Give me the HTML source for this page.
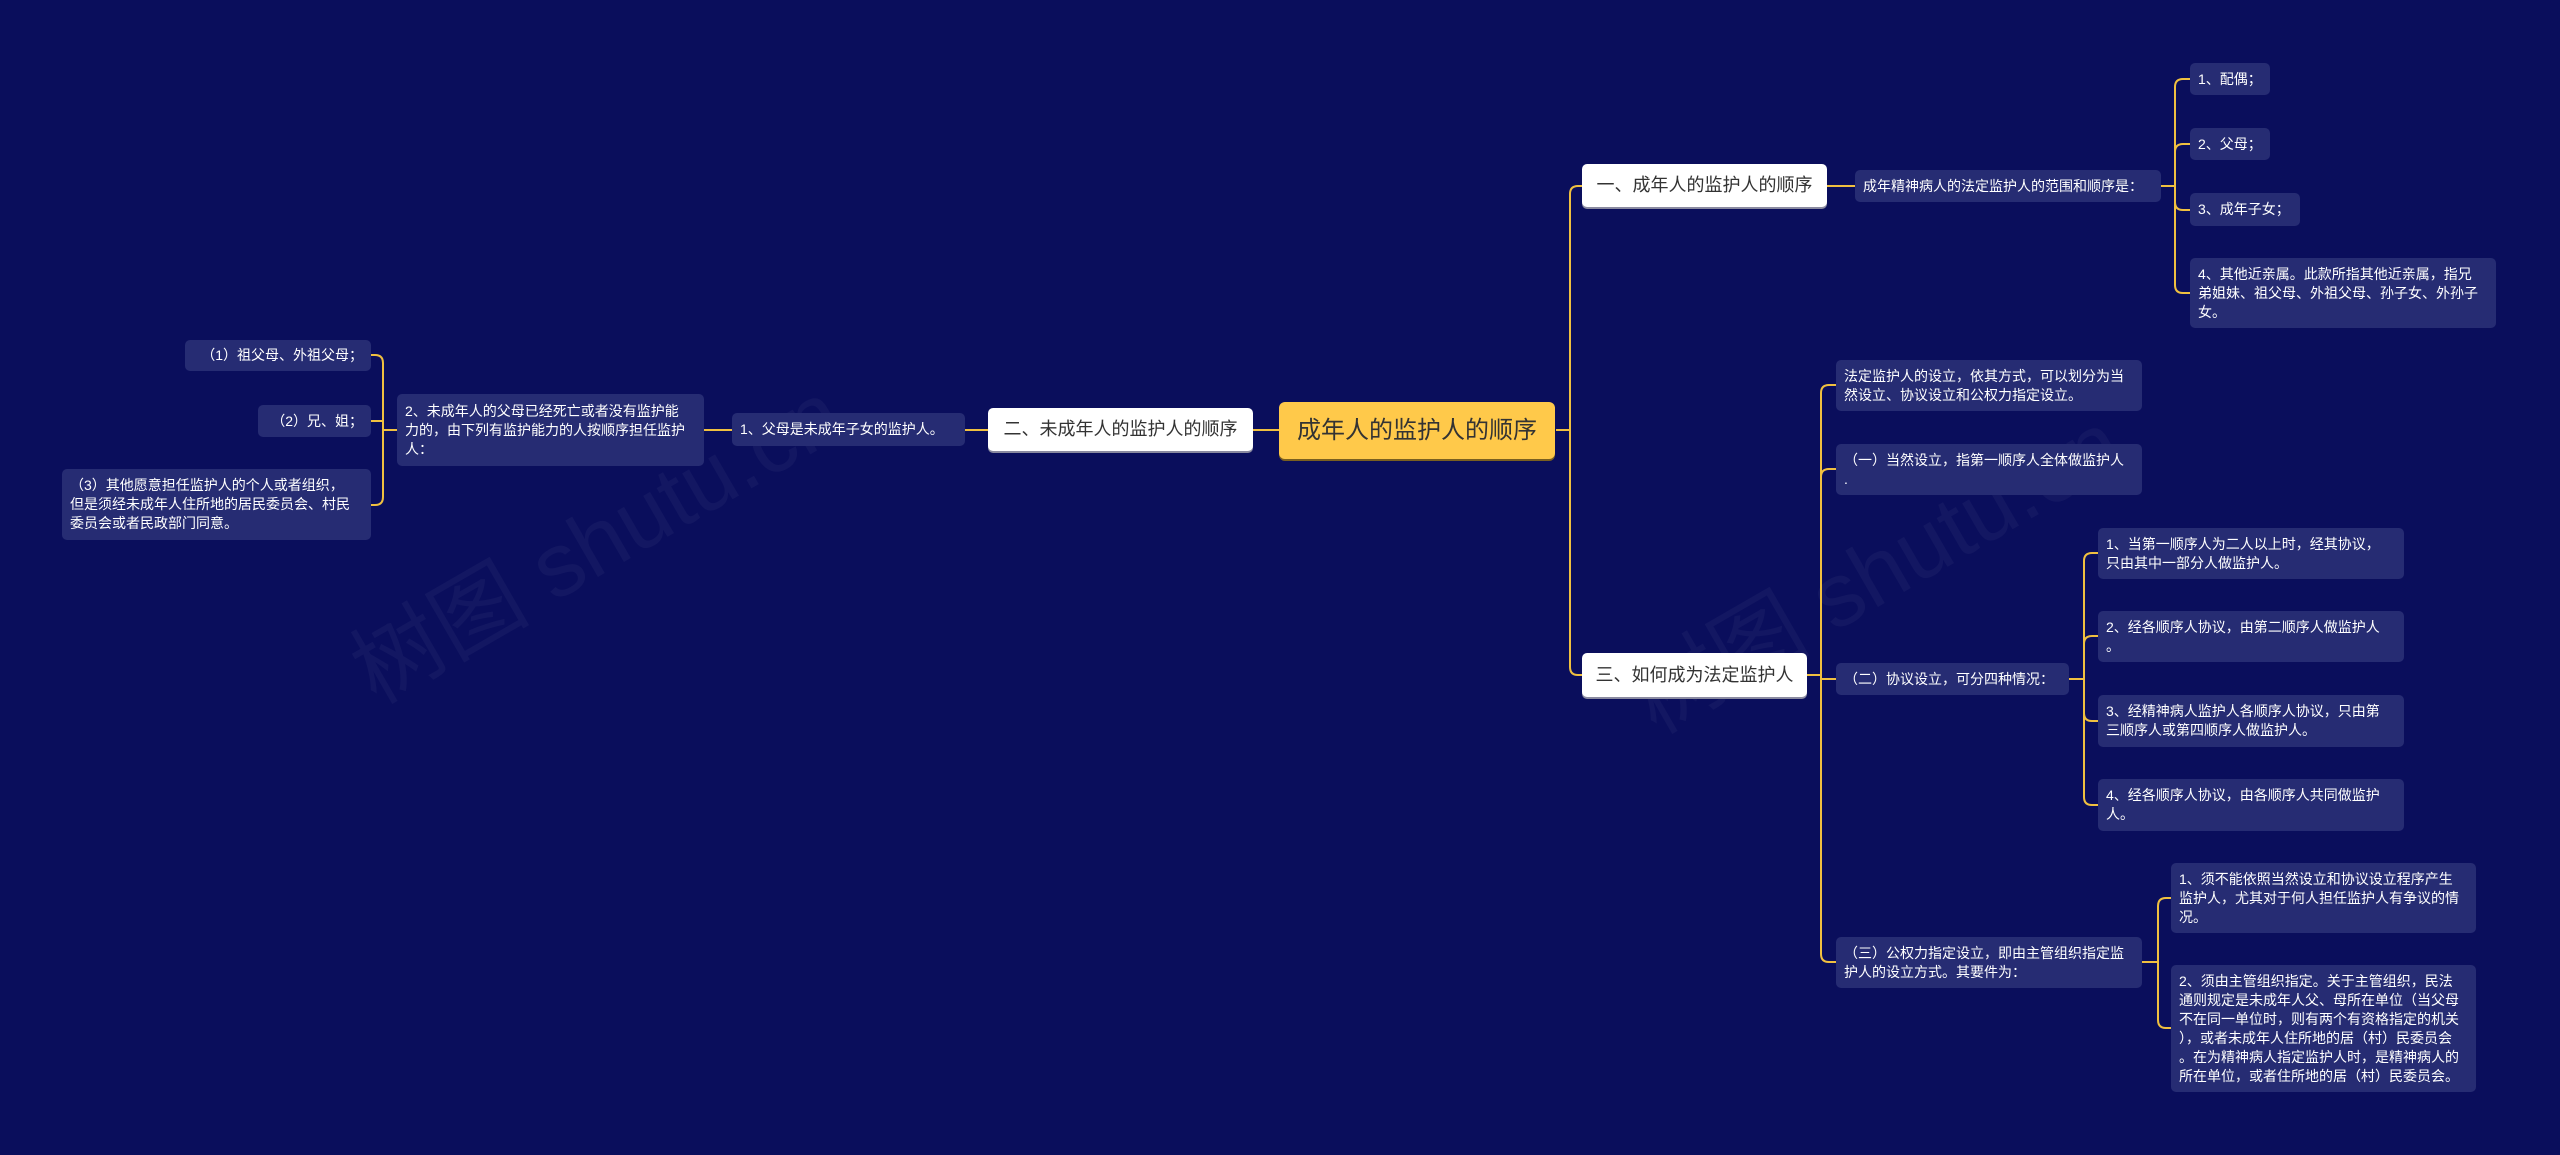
<!DOCTYPE html>
<html><head><meta charset="utf-8"><style>
body{margin:0;width:2560px;height:1155px;background:#0a0e5c;overflow:hidden;position:relative;font-family:"Liberation Sans","Noto Sans CJK SC",sans-serif}
.n{position:absolute;box-sizing:border-box;display:flex;align-items:center;background:#262c73;color:#fff;font-size:14px;line-height:19px;padding:4px 8px;border-radius:5px;white-space:nowrap}
.w{background:#fff;color:#333;font-size:18px;border-radius:5px;justify-content:center;box-shadow:0 2px 0 #8a8aa0}
.r{background:#ffc94a;color:#333;font-size:24px;border-radius:6px;justify-content:center;box-shadow:0 2px 0 #7a6020}
svg{position:absolute;left:0;top:0}
.wm{position:absolute;color:rgba(255,255,255,0.04);font-size:90px;transform:rotate(-30deg);white-space:nowrap}
</style></head><body>
<div class="wm" style="left:320px;top:470px">树图 shutu.cn</div>
<div class="wm" style="left:1600px;top:500px">树图 shutu.cn</div>
<svg width="2560" height="1155" fill="none" stroke="#f0c040" stroke-width="2">
<path d="M1253 430H1279M965 430H988M704 430H732"/>
<path d="M397 430H383M383 430V363Q383 355 375 355H371M383 430V421H371M383 430V497Q383 505 375 505H371"/>
<path d="M1556 430H1570M1570 430V194Q1570 186 1578 186H1582M1570 430V667Q1570 675 1578 675H1582"/>
<path d="M1827 186H1855M2161 186H2175M2175 186V87Q2175 79 2183 79H2190M2175 186V152Q2175 144 2183 144H2190M2175 186V202Q2175 210 2183 210H2190M2175 186V285Q2175 293 2183 293H2190"/>
<path d="M1807 675H1821M1821 675V393Q1821 385 1829 385H1836M1821 675V477Q1821 469 1829 469H1836M1821 675V679H1836M1821 675V954Q1821 962 1829 962H1836"/>
<path d="M2069 679H2084M2084 679V561Q2084 553 2092 553H2098M2084 679V644Q2084 636 2092 636H2098M2084 679V713Q2084 721 2092 721H2098M2084 679V797Q2084 805 2092 805H2098"/>
<path d="M2142 962H2158M2158 962V906Q2158 898 2166 898H2171M2158 962V1020Q2158 1028 2166 1028H2171"/>
</svg>
<div class="n r" style="left:1279px;top:402px;width:276px;height:57px">成年人的监护人的顺序</div>
<div class="n w" style="left:988px;top:408px;width:265px;height:43px">二、未成年人的监护人的顺序</div>
<div class="n" style="left:732px;top:413px;width:233px;height:33px">1、父母是未成年子女的监护人。</div>
<div class="n" style="left:397px;top:394px;width:307px;height:72px">2、未成年人的父母已经死亡或者没有监护能<br>力的，由下列有监护能力的人按顺序担任监护<br>人：</div>
<div class="n" style="left:185px;top:340px;width:186px;height:31px;justify-content:flex-end">（1）祖父母、外祖父母；</div>
<div class="n" style="left:258px;top:405px;width:113px;height:32px;justify-content:flex-end">（2）兄、姐；</div>
<div class="n" style="left:62px;top:469px;width:309px;height:71px">（3）其他愿意担任监护人的个人或者组织，<br>但是须经未成年人住所地的居民委员会、村民<br>委员会或者民政部门同意。</div>
<div class="n w" style="left:1582px;top:164px;width:245px;height:43px">一、成年人的监护人的顺序</div>
<div class="n" style="left:1855px;top:170px;width:306px;height:32px">成年精神病人的法定监护人的范围和顺序是：</div>
<div class="n" style="left:2190px;top:63px;width:80px;height:32px">1、配偶；</div>
<div class="n" style="left:2190px;top:128px;width:80px;height:32px">2、父母；</div>
<div class="n" style="left:2190px;top:193px;width:110px;height:33px">3、成年子女；</div>
<div class="n" style="left:2190px;top:258px;width:306px;height:70px">4、其他近亲属。此款所指其他近亲属，指兄<br>弟姐妹、祖父母、外祖父母、孙子女、外孙子<br>女。</div>
<div class="n w" style="left:1582px;top:653px;width:225px;height:44px">三、如何成为法定监护人</div>
<div class="n" style="left:1836px;top:360px;width:306px;height:51px">法定监护人的设立，依其方式，可以划分为当<br>然设立、协议设立和公权力指定设立。</div>
<div class="n" style="left:1836px;top:444px;width:306px;height:51px">（一）当然设立，指第一顺序人全体做监护人<br>.</div>
<div class="n" style="left:1836px;top:663px;width:233px;height:32px">（二）协议设立，可分四种情况：</div>
<div class="n" style="left:2098px;top:528px;width:306px;height:51px">1、当第一顺序人为二人以上时，经其协议，<br>只由其中一部分人做监护人。</div>
<div class="n" style="left:2098px;top:611px;width:306px;height:51px">2、经各顺序人协议，由第二顺序人做监护人<br>。</div>
<div class="n" style="left:2098px;top:695px;width:306px;height:52px">3、经精神病人监护人各顺序人协议，只由第<br>三顺序人或第四顺序人做监护人。</div>
<div class="n" style="left:2098px;top:779px;width:306px;height:52px">4、经各顺序人协议，由各顺序人共同做监护<br>人。</div>
<div class="n" style="left:1836px;top:937px;width:306px;height:51px">（三）公权力指定设立，即由主管组织指定监<br>护人的设立方式。其要件为：</div>
<div class="n" style="left:2171px;top:863px;width:305px;height:70px">1、须不能依照当然设立和协议设立程序产生<br>监护人，尤其对于何人担任监护人有争议的情<br>况。</div>
<div class="n" style="left:2171px;top:965px;width:305px;height:127px">2、须由主管组织指定。关于主管组织，民法<br>通则规定是未成年人父、母所在单位（当父母<br>不在同一单位时，则有两个有资格指定的机关<br>），或者未成年人住所地的居（村）民委员会<br>。在为精神病人指定监护人时，是精神病人的<br>所在单位，或者住所地的居（村）民委员会。</div>
</body></html>
